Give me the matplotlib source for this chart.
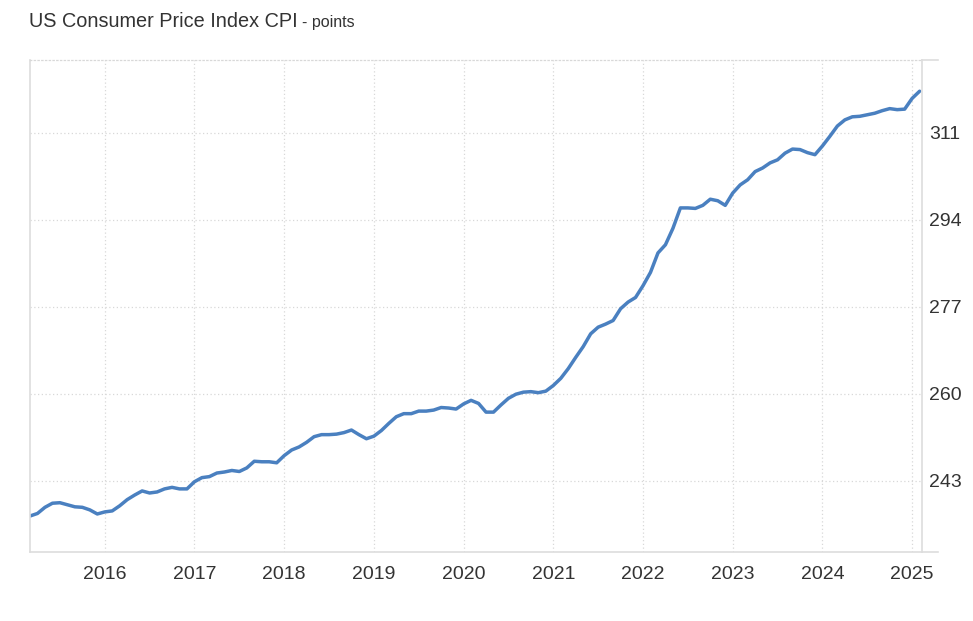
import numpy as np
import matplotlib.pyplot as plt
from matplotlib.lines import Line2D

plt.rcParams['font.family'] = ['Liberation Sans', 'DejaVu Sans']

# monthly CPI readings, Mar 2015 .. Feb 2025
start_year = 2015
start_month = 3
cpi = [
    236.1, 236.6, 237.8, 238.6, 238.7, 238.3, 237.9, 237.8, 237.3, 236.5,
    236.9, 237.1, 238.1, 239.3, 240.2, 241.0, 240.6, 240.8, 241.4, 241.7, 241.4, 241.4,
    242.8, 243.6, 243.8, 244.5, 244.7, 245.0, 244.8, 245.5, 246.8, 246.7, 246.7, 246.5,
    247.9, 249.0, 249.6, 250.5, 251.6, 252.0, 252.0, 252.1, 252.4, 252.9, 252.0, 251.2,
    251.7, 252.8, 254.2, 255.5, 256.1, 256.1, 256.6, 256.6, 256.8, 257.3, 257.2, 257.0,
    258.0, 258.7, 258.1, 256.4, 256.4, 257.8, 259.1, 259.9, 260.3, 260.4, 260.2, 260.5,
    261.6, 263.0, 264.9, 267.1, 269.2, 271.7, 273.0, 273.6, 274.3, 276.6, 277.9, 278.8,
    281.1, 283.7, 287.5, 289.1, 292.3, 296.3, 296.3, 296.2, 296.8, 298.0, 297.7, 296.8,
    299.2, 300.8, 301.8, 303.4, 304.1, 305.1, 305.7, 307.0, 307.8, 307.7, 307.1, 306.7,
    308.4, 310.3, 312.3, 313.5, 314.1, 314.2, 314.5, 314.8, 315.3, 315.7, 315.5, 315.6,
    317.7, 319.1,
]
years = [2016, 2017, 2018, 2019, 2020, 2021, 2022, 2023, 2024, 2025]
y_ticks = [243, 260, 277, 294, 311]

t = start_year + (start_month - 1) / 12 + np.arange(len(cpi)) / 12

fig = plt.figure(figsize=(9.73, 6.21), dpi=100)
ax = fig.add_axes([30 / 973, 1 - 552 / 621, 892 / 973, 492 / 621])

ax.plot(t, cpi, color='#4a80c0', linewidth=2.5, solid_joinstyle='round', solid_capstyle='round')

ax.set_xlim(t[0], 2025.11)
ax.set_ylim(229.07, 325.2)
ax.set_xticks(years)
ax.set_xticklabels([str(y) for y in years])
ax.set_yticks(y_ticks)
ax.yaxis.tick_right()

ax.grid(True, color='#d8d8d8', linestyle=(0, (1, 2)), linewidth=0.9)
ax.tick_params(axis='x', length=0, pad=10, labelsize=14, labelcolor='#333333')
ax.tick_params(axis='y', length=0, pad=5, labelsize=14, labelcolor='#333333')

for side in ['left', 'right', 'bottom']:
    ax.spines[side].set_color('#dddddd')
    ax.spines[side].set_linewidth(1.2)
ax.spines['top'].set_color('#d8d8d8')
ax.spines['top'].set_linestyle((0, (1, 2)))
ax.spines['top'].set_linewidth(0.9)

# little extensions of the frame past the right axis
ext = 16 / 892
for yy in [0, 1]:
    ax.add_line(Line2D([1, 1 + ext], [yy, yy], transform=ax.transAxes,
                       color='#dddddd', linewidth=1.2, clip_on=False))

fig.text(29 / 973, 1 - 27 / 621, 'US Consumer Price Index CPI', fontsize=14.3,
         color='#333333', ha='left', va='baseline')
fig.text(302 / 973, 1 - 27 / 621, '- points', fontsize=11.5,
         color='#333333', ha='left', va='baseline')

plt.savefig('out.png', dpi=100)
